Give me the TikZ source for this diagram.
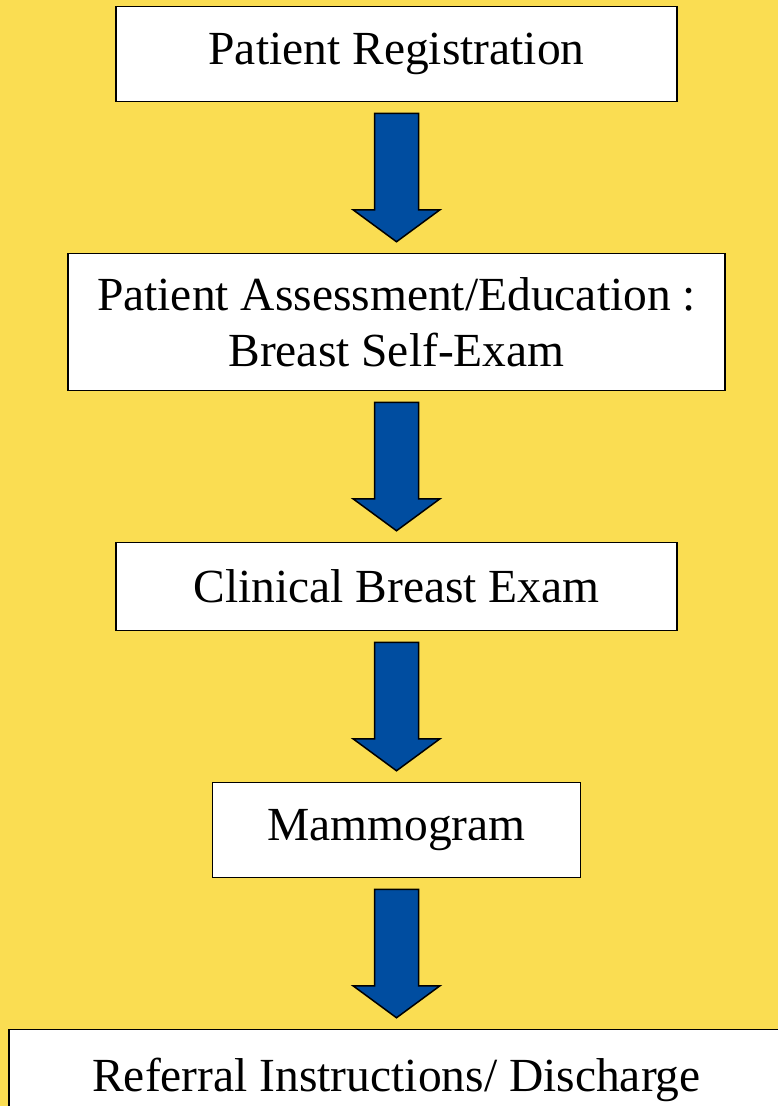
\documentclass[tikz,border=0pt]{standalone}
\usepackage{fontspec}
\setmainfont{Liberation Serif}
\usetikzlibrary{positioning,calc}
\definecolor{pageyellow}{RGB}{250,221,82}
\definecolor{arrowblue}{RGB}{0,77,160}

% block arrow between two stages
\newcommand{\flowarrow}[2]{%
  \draw[flow] ($(#1.south)+(-22,-11)$) -- ($(#1.south)+(22,-11)$)
    -- ($(#2.north)+(22,43)$) -- ($(#2.north)+(43.5,43)$)
    -- ($(#2.north)+(0,11)$) -- ($(#2.north)+(-43.5,43)$)
    -- ($(#2.north)+(-22,43)$) -- cycle;}

\begin{document}
\begin{tikzpicture}[x=1pt, y=1pt, node distance={150.5pt},
    stage/.style = {draw, fill=white, line width=1.5pt, inner sep=0pt, align=center,
                    font=\fontsize{47.5}{56}\selectfont},
    flow/.style = {fill=arrowblue, draw=black, line width=1.5pt, line join=miter}]
            \useasboundingbox (0,0) rectangle (778,-1106);
            \clip (0,0) rectangle (778,-1106);
            \fill[pageyellow] (0,0) rectangle (778,-1106);
            % Nodes
            \node[stage, minimum width=561, minimum height=95] (reg) at (396.5,-54) {Patient Registration};
            \node[stage, minimum width=657, minimum height=137] (assess) [below=of reg] {Patient Assessment/Education :\\Breast Self-Exam};
            \node[stage, minimum width=561, minimum height=88] (clinical) [below=of assess] {Clinical Breast Exam};
            \node[stage, minimum width=368, minimum height=95] (mammo) [below=of clinical] {Mammogram};
            \node[stage, minimum width=775, minimum height=100] (referral) [below=of mammo] {Referral Instructions/ Discharge};
            % Arrows
            \flowarrow{reg}{assess}
            \flowarrow{assess}{clinical}
            \flowarrow{clinical}{mammo}
            \flowarrow{mammo}{referral}
            \end{tikzpicture}
\end{document}
